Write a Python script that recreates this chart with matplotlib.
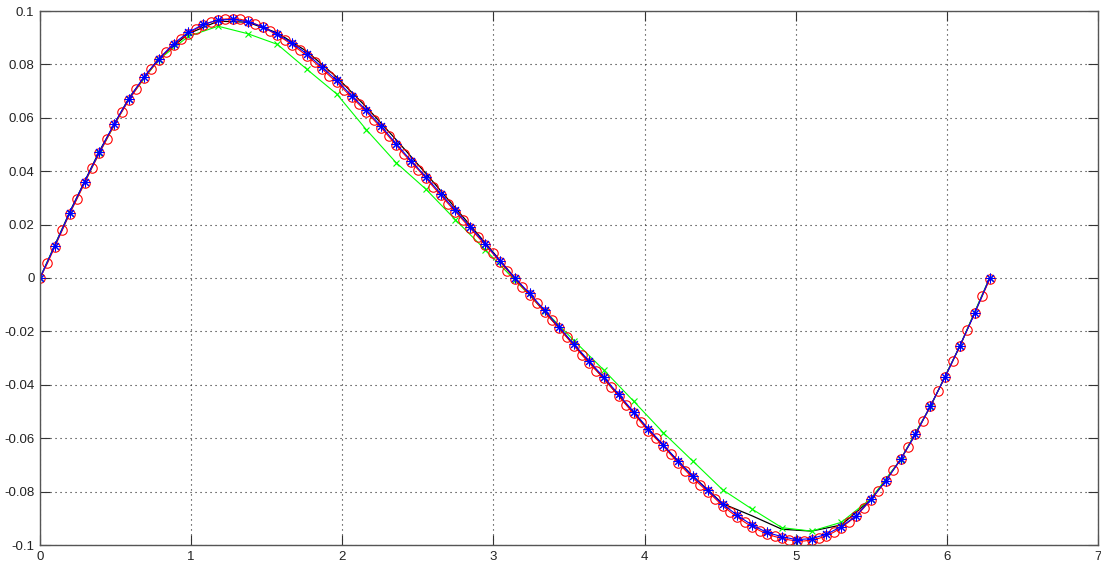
import numpy as np
import matplotlib
matplotlib.use("Agg")
import matplotlib.pyplot as plt

# step sizes used for each series (fractions of pi)
h_red = np.pi / 64
h_blue = np.pi / 32
h_green = np.pi / 16

# black reference line, sampled every pi/16
black_y = [0.0, 0.0247, 0.0475, 0.0675, 0.0822, 0.0915, 0.0962, 0.0958,
           0.0918, 0.0848, 0.0752, 0.0640, 0.0518, 0.0392, 0.0262, 0.0132,
           0.0, -0.0126, -0.0252, -0.0377, -0.0505, -0.0628, -0.0742, -0.0845,
           -0.0891, -0.0941, -0.0948, -0.0925, -0.0830, -0.0680, -0.0482,
           -0.0255, 0.0]

# red circles, every pi/64
red_y = [0.0, 0.0055, 0.0117, 0.0180, 0.0241, 0.0297, 0.0355, 0.0413,
         0.0467, 0.0520, 0.0573, 0.0621, 0.0667, 0.0708, 0.0749, 0.0783,
         0.0815, 0.0845, 0.0873, 0.0896, 0.0915, 0.0932, 0.0947, 0.0958,
         0.0966, 0.0970, 0.0971, 0.0969, 0.0962, 0.0952, 0.0940, 0.0925,
         0.0909, 0.0892, 0.0873, 0.0853, 0.0832, 0.0808, 0.0783, 0.0758,
         0.0733, 0.0705, 0.0677, 0.0650, 0.0622, 0.0592, 0.0562, 0.0530,
         0.0497, 0.0466, 0.0435, 0.0405, 0.0374, 0.0342, 0.0310, 0.0279,
         0.0248, 0.0217, 0.0186, 0.0155, 0.0124, 0.0093, 0.0061, 0.0028,
         -0.0004, -0.0034, -0.0063, -0.0095, -0.0127, -0.0158, -0.0189, -0.0222,
         -0.0255, -0.0287, -0.0318, -0.0347, -0.0376, -0.0409, -0.0442, -0.0475,
         -0.0507, -0.0540, -0.0573, -0.0601, -0.0629, -0.0661, -0.0692, -0.0721,
         -0.0750, -0.0775, -0.0800, -0.0826, -0.0853, -0.0875, -0.0896, -0.0915,
         -0.0932, -0.0946, -0.0959, -0.0968, -0.0975, -0.0981, -0.0985, -0.0985,
         -0.0981, -0.0975, -0.0965, -0.0952, -0.0935, -0.0914, -0.0892, -0.0862,
         -0.0830, -0.0796, -0.0760, -0.0720, -0.0679, -0.0633, -0.0586, -0.0534,
         -0.0480, -0.0425, -0.0370, -0.0312, -0.0253, -0.0193, -0.0131, -0.0068,
         -0.0005]

# blue stars, every pi/32
blue_y = [0.0, 0.0121, 0.0245, 0.0360, 0.0472, 0.0578, 0.0672, 0.0753,
          0.0820, 0.0878, 0.0920, 0.0950, 0.0966, 0.0969, 0.0960, 0.0941,
          0.0913, 0.0879, 0.0839, 0.0790, 0.0740, 0.0683, 0.0628, 0.0568,
          0.0503, 0.0440, 0.0379, 0.0316, 0.0253, 0.0191, 0.0129, 0.0064,
          0.0, -0.0058, -0.0121, -0.0184, -0.0249, -0.0311, -0.0372, -0.0436,
          -0.0501, -0.0565, -0.0624, -0.0686, -0.0743, -0.0795, -0.0847, -0.0889,
          -0.0926, -0.0953, -0.0969, -0.0980, -0.0976, -0.0960, -0.0931, -0.0891,
          -0.0829, -0.0760, -0.0679, -0.0586, -0.0480, -0.0370, -0.0253, -0.0131,
          0.0]

# green crosses, every pi/16
green_y = [0.0, 0.0243, 0.0470, 0.0672, 0.0818, 0.0905, 0.0943, 0.0915,
           0.0875, 0.0781, 0.0689, 0.0555, 0.0432, 0.0333, 0.0218, 0.0106,
           -0.0008, -0.0122, -0.0235, -0.0345, -0.0461, -0.0579, -0.0686, -0.0793,
           -0.0866, -0.0935, -0.0948, -0.0915, -0.0826, -0.0680, -0.0482,
           -0.0253, 0.0]

x_black = np.arange(len(black_y)) * h_green
x_red = np.arange(len(red_y)) * h_red
x_blue = np.arange(len(blue_y)) * h_blue
x_green = np.arange(len(green_y)) * h_green

plt.rcParams['font.family'] = ['Liberation Sans', 'DejaVu Sans']

fig = plt.figure(figsize=(11.01, 5.62), dpi=100)
ax = fig.add_axes([40 / 1101, 17 / 562, 1058 / 1101, 534 / 562])

ax.plot(x_black, black_y, '-', color='black', lw=0.9)
ax.plot(x_green, green_y, '-', color='#00ff00', lw=0.8,
        marker='x', ms=5, mew=0.8)
ax.plot(x_red, red_y, '-', color='red', lw=0.8,
        marker='o', ms=6.8, mfc='none', mec='red', mew=0.8)
ax.plot(x_blue, blue_y, '-', color='blue', lw=0.8,
        marker=(8, 2, 0), ms=7, mec='blue', mew=0.75)

ax.set_xlim(0, 7)
ax.set_ylim(-0.1, 0.1)
ax.set_xticks(range(8))
ax.set_yticks(np.linspace(-0.1, 0.1, 11))
ax.set_xticklabels([str(v) for v in range(8)])
ylabels = ['-0.1', '-0.08', '-0.06', '-0.04', '-0.02', '0',
           '0.02', '0.04', '0.06', '0.08', '0.1']
ax.set_yticklabels(ylabels)

ax.grid(True, color='#222222', linestyle=(0, (1, 3.5)), lw=0.8)
ax.tick_params(direction='in', length=7.5, width=0.8, color='#333333',
               top=True, right=True, labelsize=9.5, labelcolor='#222222',
               pad=4)
for s in ax.spines.values():
    s.set_color('#555555')
    s.set_linewidth(1.0)

fig.savefig('out.png', dpi=100, facecolor='white')
